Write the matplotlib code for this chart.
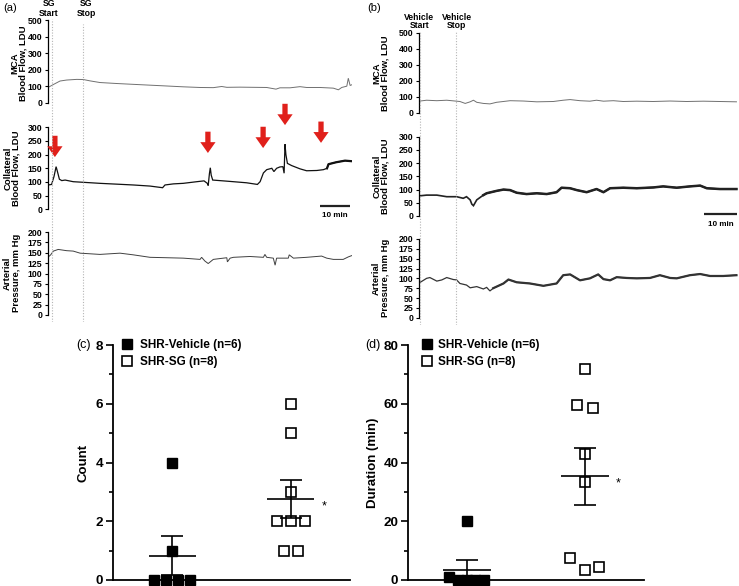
import numpy as np
import matplotlib
matplotlib.use("Agg")
import matplotlib.pyplot as plt
from matplotlib.ticker import MultipleLocator
from matplotlib.lines import Line2D

plt.rcParams['font.family'] = ['Liberation Sans', 'DejaVu Sans']

# ---------------- data ----------------
# event times (min)
sg_start_min, sg_stop_min = 1.3, 11.7
veh_start_min, veh_stop_min = 0.3, 11.2

# (a) SG-treated rat: traces (time in min)
a_mca_t = [0.1,1.8,4.0,6.2,9.6,11.8,14.0,17.3,22.9,28.4,34.0,39.6,45.1,50.7,55.1,57.9,59.6,64.0,68.4,72.9,76.0,77.3,80.7,84.0,86.2,90.7,95.1,96.8,97.9,99.6,100.1,100.7,101.2]
a_mca_v = [93,110,131,137,141,140,132,122,116,111,106,101,96,92,91,98,93,94,93,92,82,90,90,97,92,92,88,78,92,100,148,104,108]

a_col_t = [0.1,1.2,2.0,2.7,3.1,3.8,4.6,5.7,8.4,12.9,17.3,22.9,28.4,34.0,38.2,39.0,41.8,45.1,49.6,52.0,
           53.1,53.4,53.8,54.1,54.4,54.9,58.4,61.8,66.2,69.8,70.7,71.8,72.9,74.6,75.3,76.2,77.3,78.3,78.7,79.0,
           79.3,79.8,81.2,84.0,86.2,89.6,91.8,93.0,93.5,96.0,99.0,101.2]
a_col_v = [89,91,120,156,140,110,105,107,101,98,95,92,89,85,79,89,93,95,101,104,
           95,87,130,152,125,107,104,101,97,91,101,133,145,150,138,150,155,156,132,238,
           200,168,160,148,141,142,145,150,165,172,178,176]

a_art_t = [0.1,0.9,1.8,3.4,6.2,8.4,10.7,17.3,24.0,28.4,34.0,39.6,45.1,50.7,51.2,52.3,53.4,55.1,59.6,59.8,
           60.7,61.8,67.3,71.8,72.3,72.9,75.1,75.7,76.2,80.1,80.4,81.8,86.2,91.2,92.9,95.1,98.4,100.1,101.2]
a_art_v = [140,145,154,158,155,154,149,146,149,145,139,138,137,134,139,130,124,134,138,128,
           137,139,141,139,146,139,137,120,137,137,145,137,139,142,137,134,134,140,143]

# (b) vehicle-treated rat
b_mca_t = [0,2.3,5.4,8.4,10.4,12.4,14.0,15.5,16.5,17.5,19.5,21.5,23.5,27.6,31.6,35.7,40.7,43.7,45.8,48.8,
           51.8,53.8,55.9,58.9,61.9,66.0,71.0,76.1,81.1,86.2,91.2,96.2]
b_mca_v = [72,78,75,78,74,70,58,68,78,65,58,55,65,75,73,68,70,78,82,75,
           72,78,72,75,70,72,70,73,70,72,70,68]

b_col_t = [0,2.3,5.4,8.4,11.4,13.4,14.4,15.5,16.0,16.5,17.5,19.5,20.5,23.5,25.6,27.6,29.6,32.6,35.7,38.7,
           41.7,43.2,45.8,47.8,50.8,53.8,55.9,57.9,61.9,66.0,71.0,74.0,78.1,82.1,85.2,87.2,91.2,96.2]
b_col_v = [76,79,79,73,73,67,73,61,45,39,61,79,86,95,100,98,88,83,86,83,
           90,107,105,98,90,102,90,105,107,105,108,112,107,112,115,105,102,102]

b_art_t = [0,2.3,3.3,5.4,6.9,8.4,10.4,11.4,12.4,14.4,15.5,17.5,19.5,20.5,21.5,22.5,25.6,27.1,29.6,33.6,
           37.7,41.7,43.7,45.8,47.8,48.8,51.8,54.3,55.9,57.9,59.9,62.9,66.0,70.0,73.0,76.1,78.1,82.1,85.2,88.2,
           92.2,96.2]
b_art_v = [88,100,102,93,96,102,97,96,87,83,76,79,73,77,68,75,87,97,90,87,
           81,87,108,110,100,95,100,110,98,95,103,101,100,101,108,101,100,108,111,106,
           106,108]

# arrows marking collateral flow events in (a)
arrow_times = [2.3, 53.3, 71.7, 79.0, 91.0]
arrow_tips = [191, 206, 224, 308, 243]

# (c), (d) summary data
groups = ["SHR-Vehicle (n=6)", "SHR-SG (n=8)"]
count_vehicle = [4, 1, 0, 0, 0, 0]
count_sg = [6, 5, 3, 2, 2, 2, 1, 1]
duration_vehicle = [20, 1, 0, 0, 0, 0]
duration_sg = [72, 59.5, 58.5, 43, 33.5, 7.5, 3.5, 4.5]

# horizontal jitter of points (layout only)
count_vehicle_dx = [0, 0, -0.15, -0.05, 0.05, 0.15]
count_sg_dx = [0, 0, 0, -0.12, 0, 0.12, -0.06, 0.06]
duration_vehicle_dx = [0, -0.15, -0.08, 0.0, 0.065, 0.14]
duration_sg_dx = [0, -0.065, 0.065, 0, 0, -0.13, 0, 0.12]

# ---------------- figure ----------------
W, H = 739, 586
fig = plt.figure(figsize=(W / 100, H / 100), dpi=100)


def px_axes(x0, y0, x1, y1):
    return fig.add_axes([x0 / W, 1 - y1 / H, (x1 - x0) / W, (y1 - y0) / H])


def ftext(x, y, s, **kw):
    return fig.text(x / W, 1 - y / H, s, **kw)


def trace_axes(x0, y0, x1, y1, xmax, ymax, step, t, v, color, lw, noisy_from=None, noisy_lw=None):
    ax = px_axes(x0, y0, x1, y1)
    ax.patch.set_alpha(0)
    ax.plot(t, v, color=color, lw=lw, solid_joinstyle='miter')
    if noisy_from is not None:
        t_arr, v_arr = np.asarray(t), np.asarray(v)
        sel = t_arr >= noisy_from
        ax.plot(t_arr[sel], v_arr[sel], color=color, lw=noisy_lw)
    ax.set_xlim(0, xmax)
    ax.set_ylim(0, ymax)
    for s in ['top', 'right', 'bottom']:
        ax.spines[s].set_visible(False)
    ax.spines['left'].set_linewidth(0.9)
    ax.set_xticks([])
    ax.set_yticks(np.arange(0, ymax + 1, step))
    ax.tick_params(axis='y', length=2.5, width=0.8, labelsize=6.3, pad=1.5)
    for lab in ax.get_yticklabels():
        lab.set_fontweight('bold')
    return ax


# column (a)
axa_m = trace_axes(48, 20, 352, 102.7, 101.33, 500, 100, a_mca_t, a_mca_v, '#707070', 0.7)
axa_c = trace_axes(48, 127.3, 352, 209.3, 101.33, 300, 50, a_col_t, a_col_v, '#111111', 0.9,
                   noisy_from=93.0, noisy_lw=1.6)
axa_a = trace_axes(48, 232, 352, 315, 101.33, 200, 25, a_art_t, a_art_v, '#404040', 0.7)

# column (b)
axb_m = trace_axes(419, 32.7, 738, 112.7, 96.67, 500, 100, b_mca_t, b_mca_v, '#707070', 0.7)
axb_c = trace_axes(419, 136.7, 738, 216, 96.67, 300, 50, b_col_t, b_col_v, '#222222', 1.2,
                   noisy_from=19.0, noisy_lw=1.8)
axb_a = trace_axes(419, 239, 738, 317.7, 96.67, 200, 25, b_art_t, b_art_v, '#333333', 0.9,
                   noisy_from=22.0, noisy_lw=1.6)

# dotted event lines
ova = px_axes(48, 19, 352, 322)
ova.set_xlim(0, 101.33); ova.set_ylim(0, 1); ova.axis('off')
ova.vlines([sg_start_min, sg_stop_min], [0, 0], [1, 0.985], colors='#b5b5b5', lw=0.8,
           linestyles=(0, (1, 1.5)))
ovb = px_axes(419, 32, 738, 325)
ovb.set_xlim(0, 96.67); ovb.set_ylim(0, 1); ovb.axis('off')
ovb.vlines([veh_start_min, veh_stop_min], 0, 1, colors='#b5b5b5', lw=0.8,
           linestyles=(0, (1, 1.5)))

# red arrows
for t, tip in zip(arrow_times, arrow_tips):
    axa_c.annotate('', xy=(t, tip), xytext=(t, tip + 78), annotation_clip=False,
                   arrowprops=dict(arrowstyle='simple,head_length=0.78,head_width=1.1,tail_width=0.38',
                                   color='#e0201b', lw=0, mutation_scale=10, shrinkA=0, shrinkB=0))

# scale bars
axa_c.plot([90.7, 100.7], [12, 12], color='#222222', lw=1.6, clip_on=False, solid_capstyle='butt')
ftext(335, 215.5, '10 min', ha='center', va='center', fontsize=5.8, fontweight='bold')
axb_c.plot([86.4, 96.4], [7.6, 7.6], color='#222222', lw=1.6, clip_on=False, solid_capstyle='butt')
ftext(720.5, 224, '10 min', ha='center', va='center', fontsize=5.8, fontweight='bold')

# top labels
ftext(3, 8, '(a)', ha='left', va='center', fontsize=8)
ftext(367, 8, '(b)', ha='left', va='center', fontsize=8)
ftext(49, 8.5, 'SG\nStart', ha='center', va='center', fontsize=6.2, fontweight='bold', linespacing=1.0)
ftext(86, 8.5, 'SG\nStop', ha='center', va='center', fontsize=6.2, fontweight='bold', linespacing=1.0)
ftext(419.5, 21.5, 'Vehicle\nStart', ha='center', va='center', fontsize=6.2, fontweight='bold', linespacing=1.0)
ftext(456.5, 21.5, 'Vehicle\nStop', ha='center', va='center', fontsize=6.2, fontweight='bold', linespacing=1.0)

ylab_kw = dict(rotation=90, ha='center', va='center', fontsize=6.8, fontweight='bold',
               linespacing=0.95, multialignment='center')
ftext(19, 63, 'MCA\nBlood Flow, LDU', **ylab_kw)
ftext(12, 168, 'Collateral\nBlood Flow, LDU', **ylab_kw)
ftext(12, 273, 'Arterial\nPressure, mm Hg', **ylab_kw)
ftext(381, 73, 'MCA\nBlood Flow, LDU', **ylab_kw)
ftext(381, 176, 'Collateral\nBlood Flow, LDU', **ylab_kw)
ftext(381, 278, 'Arterial\nPressure, mm Hg', **ylab_kw)


# ---------------- dot plots ----------------
def dot_panel(ax, veh, sg, veh_dx, sg_dx, ymax, major, minor, ylabel, label_x,
              leg_x, leg_pad):
    ax.set_xlim(0.5, 2.5)
    ax.set_ylim(0, ymax)
    for s in ['top', 'right']:
        ax.spines[s].set_visible(False)
    ax.spines['left'].set_linewidth(1.3)
    ax.spines['bottom'].set_linewidth(1.3)
    ax.set_xticks([])
    ax.yaxis.set_major_locator(MultipleLocator(major))
    ax.yaxis.set_minor_locator(MultipleLocator(minor))
    ax.tick_params(axis='y', which='major', length=5, width=1.2, labelsize=9.7, pad=2)
    ax.tick_params(axis='y', which='minor', length=3, width=1.2)
    for lab in ax.get_yticklabels():
        lab.set_fontweight('bold')
    ax.set_ylabel(ylabel, fontsize=9.5, fontweight='bold')
    ax.yaxis.set_label_coords(label_x, 0.5)

    for g, vals in ((1, veh), (2, sg)):
        vals = np.asarray(vals, float)
        m = vals.mean()
        sem = vals.std(ddof=1) / np.sqrt(len(vals))
        ax.hlines(m, g - 0.2, g + 0.2, color='k', lw=1.2, zorder=4)
        ax.vlines(g, m - sem, m + sem, color='k', lw=1.2, zorder=4)
        ax.hlines([m - sem, m + sem], g - 0.093, g + 0.093, color='k', lw=1.2, zorder=4)
        if g == 2:
            ax.text(g + 0.28, m - 0.03 * ymax, '*', ha='center', va='center', fontsize=9)

    ax.plot(1 + np.asarray(veh_dx), veh, 's', ms=6.7, mfc='k', mec='k', mew=1.0,
            ls='none', clip_on=False, zorder=5)
    ax.plot(2 + np.asarray(sg_dx), sg, 's', ms=6.7, mfc='none', mec='k', mew=1.2,
            ls='none', clip_on=False, zorder=5)

    h1 = Line2D([], [], marker='s', ls='none', ms=6.7, mfc='k', mec='k')
    h2 = Line2D([], [], marker='s', ls='none', ms=6.7, mfc='none', mec='k', mew=1.2)
    ax.legend([h1, h2], groups, loc='upper left', bbox_to_anchor=(leg_x, 1.025), frameon=False,
              prop=dict(weight='bold', size=8.5), handlelength=0.8, handletextpad=leg_pad,
              borderaxespad=0, borderpad=0, labelspacing=0.45)


axc = px_axes(113, 345, 350, 580)
dot_panel(axc, count_vehicle, count_sg, count_vehicle_dx, count_sg_dx, 8, 2, 1, 'Count',
          -24 / 237, 0.038, 0.7)
axd = px_axes(408, 345, 644, 580)
dot_panel(axd, duration_vehicle, duration_sg, duration_vehicle_dx, duration_sg_dx, 80, 20, 10,
          'Duration (min)', -29 / 236, 0.059, 0.55)

ftext(76, 345, '(c)', ha='left', va='center', fontsize=9)
ftext(365, 345, '(d)', ha='left', va='center', fontsize=9)

fig.savefig('out.png', dpi=100)
